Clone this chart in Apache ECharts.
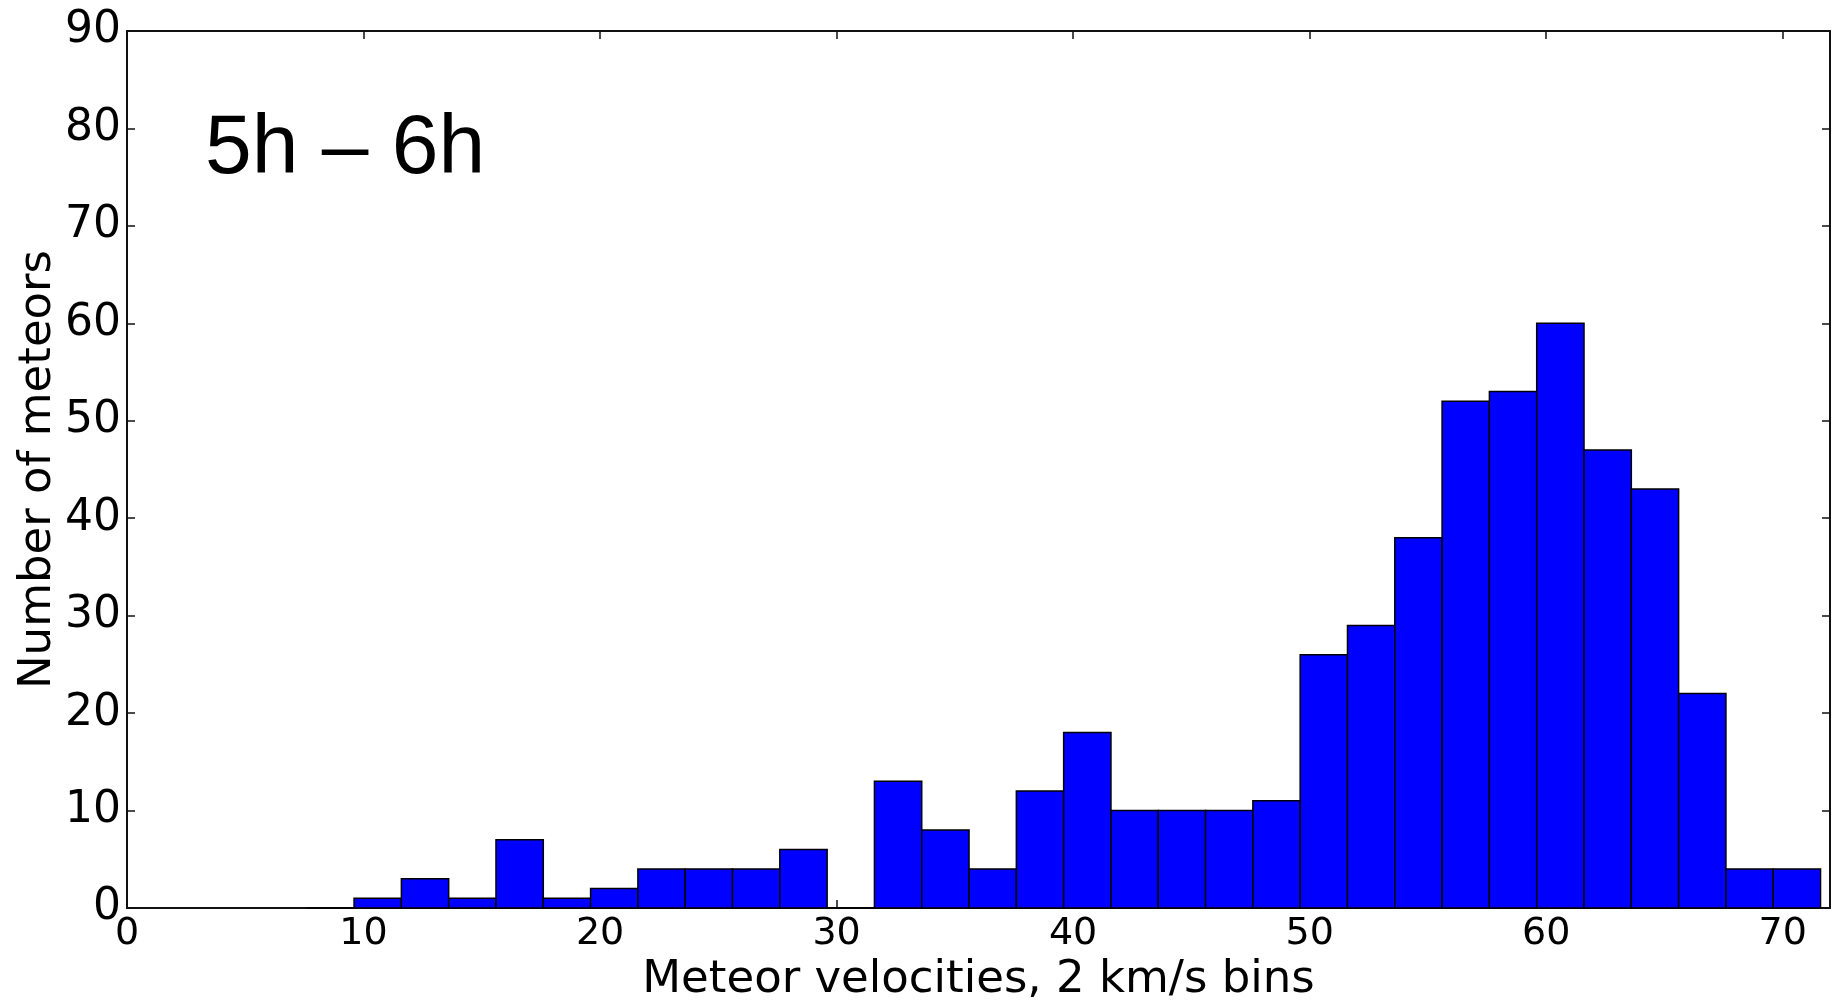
<!DOCTYPE html>
<html>
<head>
<meta charset="utf-8">
<title>Meteor velocities 5h – 6h</title>
<script src="https://cdn.jsdelivr.net/npm/echarts@6/dist/echarts.min.js"></script>
<style>
  html, body { margin: 0; padding: 0; background: #ffffff; }
  #chart { width: 1837px; height: 1005px; }
</style>
</head>
<body>
<div id="chart"></div>
<script>
// Left edges of the 2 km/s velocity bins (km/s)
const binLefts = [7.6, 9.6, 11.6, 13.6, 15.6, 17.6, 19.6, 21.6, 23.6, 25.6, 27.6, 29.6,
                  31.6, 33.6, 35.6, 37.6, 39.6, 41.6, 43.6, 45.6, 47.6, 49.6, 51.6, 53.6,
                  55.6, 57.6, 59.6, 61.6, 63.6, 65.6, 67.6, 69.6];
const binWidth = 2;
// Number of meteors in each bin
const counts = [0, 1, 3, 1, 7, 1, 2, 4, 4, 4, 6, 0,
                13, 8, 4, 12, 18, 10, 10, 10, 11, 26, 29, 38,
                52, 53, 60, 47, 43, 22, 4, 4];
const xTicks = [0, 10, 20, 30, 40, 50, 60, 70];
const yTicks = [0, 10, 20, 30, 40, 50, 60, 70, 80, 90];
const periodLabel = '5h – 6h';
const xTitle = 'Meteor velocities, 2 km/s bins';
const yTitle = 'Number of meteors';

const histData = binLefts.map((x, i) => [x, x + binWidth, counts[i]]);

const tickFont = 'DejaVu Sans';
// Box frame: all four axes drawn at the grid edges, never through zero
const frameLine = { show: true, onZero: false, lineStyle: { color: '#111', width: 2 } };
const innerTick = { show: true, inside: true, length: 8, lineStyle: { color: '#111', width: 1.5 } };

const chart = echarts.init(document.getElementById('chart'), null, { renderer: 'canvas' });
chart.setOption({
  animation: false,
  backgroundColor: '#ffffff',
  grid: { left: 127, right: 7, top: 31, bottom: 97, containLabel: false, outerBoundsMode: 'none' },
  xAxis: [
    {
      type: 'value', position: 'bottom', min: 0, max: 72, interval: 10,
      axisLine: frameLine, axisTick: innerTick, splitLine: { show: false },
      axisLabel: {
        margin: 7, fontFamily: tickFont, fontSize: 38, color: '#000',
        showMaxLabel: false,
        formatter: v => (xTicks.includes(v) ? String(v) : '')
      },
      name: xTitle, nameLocation: 'middle', nameGap: 50, nameMoveOverlap: false,
      nameTextStyle: { fontFamily: tickFont, fontSize: 45, color: '#000' }
    },
    {
      type: 'value', position: 'top', min: 0, max: 72, interval: 10,
      axisLine: frameLine, axisTick: innerTick, axisLabel: { show: false },
      splitLine: { show: false }
    }
  ],
  yAxis: [
    {
      type: 'value', position: 'left', min: 0, max: 90, interval: 10,
      axisLine: frameLine, axisTick: innerTick, splitLine: { show: false },
      axisLabel: {
        margin: 6, fontFamily: tickFont, fontSize: 44, color: '#000',
        formatter: v => (yTicks.includes(v) ? String(v) : '')
      },
      name: yTitle, nameLocation: 'middle', nameGap: 66, nameRotate: 90, nameMoveOverlap: false,
      nameTextStyle: { fontFamily: tickFont, fontSize: 45, color: '#000' }
    },
    {
      type: 'value', position: 'right', min: 0, max: 90, interval: 10,
      axisLine: frameLine, axisTick: innerTick, axisLabel: { show: false },
      splitLine: { show: false }
    }
  ],
  graphic: [
    {
      type: 'text', left: 205, top: 108, z: 10,
      style: { text: periodLabel, font: '84px "Liberation Sans", Arial, sans-serif', fill: '#000' }
    }
  ],
  series: [
    {
      type: 'custom',
      xAxisIndex: 0, yAxisIndex: 0,
      data: histData,
      encode: { x: [0, 1], y: 2 },
      renderItem: function (params, api) {
        const x0 = api.value(0), x1 = api.value(1), h = api.value(2);
        const topLeft = api.coord([x0, h]);
        const bottomRight = api.coord([x1, 0]);
        return {
          type: 'rect',
          shape: {
            x: topLeft[0], y: topLeft[1],
            width: bottomRight[0] - topLeft[0],
            height: bottomRight[1] - topLeft[1]
          },
          style: { fill: '#0000ff', stroke: '#000', lineWidth: 1.5 }
        };
      }
    }
  ]
});
</script>
</body>
</html>
